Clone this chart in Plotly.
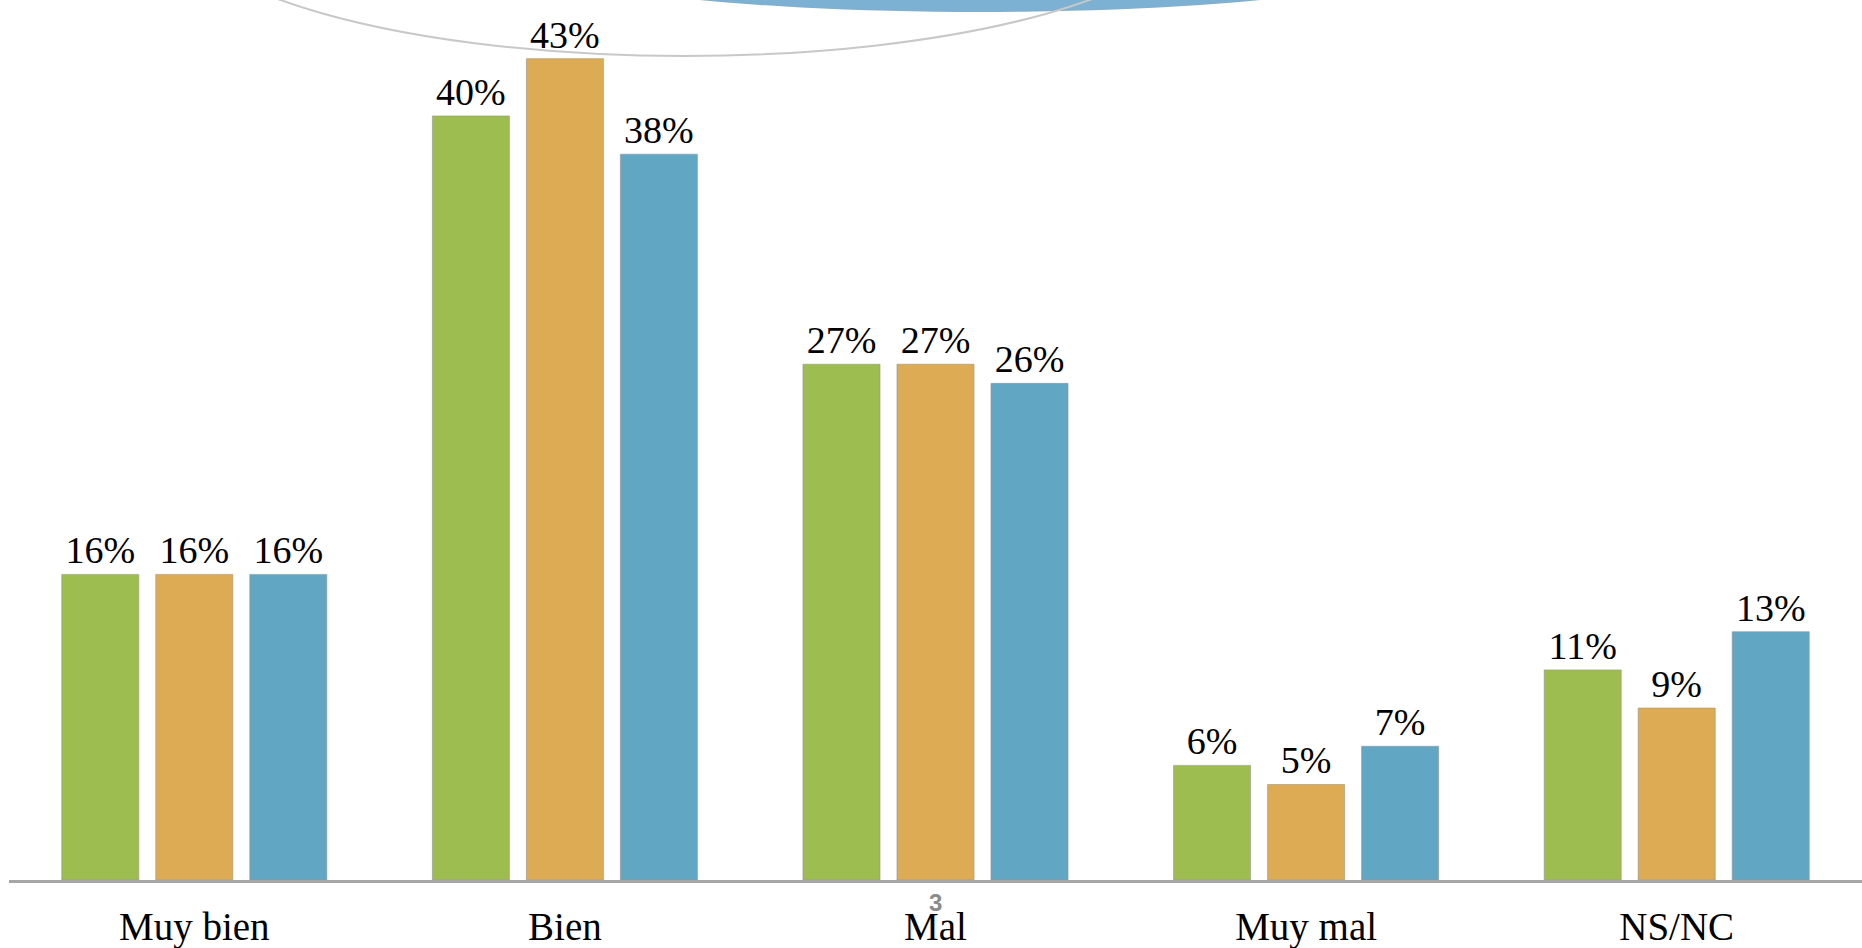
import plotly.graph_objects as go

categories = ["Muy bien", "Bien", "Mal", "Muy mal", "NS/NC"]
serie_1 = [16, 40, 27, 6, 11]
serie_2 = [16, 43, 27, 5, 9]
serie_3 = [16, 38, 26, 7, 13]
series_names = ["Serie 1", "Serie 2", "Serie 3"]
series_colors = ["#9ebd50", "#ddab53", "#61a7c4"]

W, H = 1862, 948
plot_left, plot_right, plot_bottom = 9, 1862, 880

fig = go.Figure()
for name, vals, col in zip(series_names, [serie_1, serie_2, serie_3], series_colors):
    fig.add_trace(go.Bar(
        x=categories, y=vals, name=name,
        marker=dict(color=col, line=dict(color="rgba(150,150,150,0.6)", width=1)),
        text=[f"{v}%" for v in vals], textposition="outside",
        textfont=dict(family="Liberation Serif", size=38, color="black"),
        cliponaxis=False,
    ))

def px_x(p):
    return (p - plot_left) / (plot_right - plot_left)

def px_y(p):
    return (plot_bottom - p) / plot_bottom

shapes = [
    # decorative blue ellipse at top
    dict(type="circle", xref="paper", yref="paper", layer="below",
         x0=px_x(980 - 467), x1=px_x(980 + 467), y0=px_y(12), y1=px_y(-108),
         fillcolor="rgba(110,168,206,0.9)", line=dict(width=0)),
    # decorative grey arc
    dict(type="circle", xref="paper", yref="paper", layer="below",
         x0=px_x(685 - 515), x1=px_x(685 + 515), y0=px_y(56), y1=px_y(56 - 294),
         fillcolor="rgba(0,0,0,0)", line=dict(color="#c8c8c8", width=2)),
]

fig.update_layout(
    width=W, height=H,
    margin=dict(l=plot_left, r=0, t=0, b=H - plot_bottom),
    paper_bgcolor="white", plot_bgcolor="rgba(0,0,0,0)",
    barmode="group", bargap=0.239, bargroupgap=0.18,
    showlegend=False,
    shapes=shapes,
    annotations=[dict(text="<b>3</b>", xref="paper", yref="paper",
                      x=px_x(935), y=px_y(918), showarrow=False,
                      font=dict(family="Liberation Sans", size=24, color="#8a8a8a"))],
    xaxis=dict(showline=True, linecolor="#a6a6a6", linewidth=3, ticks="",
               showgrid=False, zeroline=False, ticklabelstandoff=10,
               tickfont=dict(family="Liberation Serif", size=39, color="black")),
    yaxis=dict(range=[0, 46.07], visible=False, showgrid=False, zeroline=False),
)

fig.write_html("out.html", config={"displayModeBar": False},
               post_script="document.body.style.margin='0';document.body.style.overflow='hidden';")
